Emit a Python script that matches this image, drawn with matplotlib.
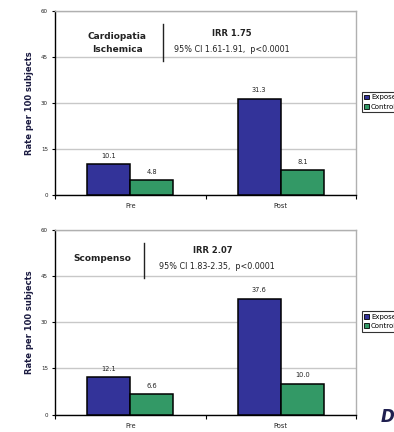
import numpy as np
import matplotlib
matplotlib.use("Agg")
import matplotlib.pyplot as plt

# Data
periods = ["Pre", "Post"]
series = ["Exposed", "Controls"]
ischemic_exposed = [10.1, 31.3]
ischemic_controls = [4.8, 8.1]
ischemic_labels = [["10.1", "31.3"], ["4.8", "8.1"]]
failure_exposed = [12.1, 37.6]
failure_controls = [6.6, 10.0]
failure_labels = [["12.1", "37.6"], ["6.6", "10.0"]]
yticks = [0, 15, 30, 45, 60]

colors = ["#333399", "#339966"]
bw = 0.286

fig = plt.figure(figsize=(3.94, 4.32), dpi=100)

def panel(rect, exp_vals, ctl_vals, labels, name, name_xy, line_x, line_y, irr, irr_xy, ci, ci_xy):
    ax = fig.add_axes(rect)
    x = np.arange(len(periods))
    for i, vals in enumerate([exp_vals, ctl_vals]):
        pos = x + (i - 0.5) * bw
        bars = ax.bar(pos, vals, bw, color=colors[i], edgecolor="black",
                      linewidth=1.1, label=series[i], zorder=3)
        for b, lab in zip(bars, labels[i]):
            ax.text(b.get_x() + b.get_width() / 2, b.get_height() + 1.8, lab,
                    ha="center", va="bottom", fontsize=4.8, color="#222222")
    ax.set_xlim(-0.5, 1.5)
    ax.set_ylim(0, 60)
    ax.set_yticks(yticks)
    ax.set_yticklabels([str(t) for t in yticks], fontsize=4, color="#222222")
    ax.set_xticks([-0.5, 0.5, 1.5])
    ax.set_xticklabels([])
    ax.set_xticks(x, minor=True)
    ax.set_xticklabels(periods, minor=True, fontsize=4.8, color="#222222")
    ax.tick_params(axis="x", which="major", length=3, width=0.8, direction="out")
    ax.tick_params(axis="x", which="minor", length=0, pad=6)
    ax.tick_params(axis="y", length=2, width=0.8, pad=3)
    ax.yaxis.grid(True, color="#c8c8c8", linewidth=1, zorder=0)
    ax.set_axisbelow(True)
    for s in ["top", "right"]:
        ax.spines[s].set_color("#b0b0b0")
        ax.spines[s].set_linewidth(1)
    ax.spines["left"].set_linewidth(1)
    ax.spines["bottom"].set_linewidth(1)
    ax.set_ylabel("Rate per 100 subjects", fontsize=6, fontweight="bold",
                  color="#1a1a40", labelpad=5)
    ax.text(name_xy[0], name_xy[1], name, transform=ax.transAxes, ha="center",
            va="center", fontsize=6.5, fontweight="bold", color="#222222",
            linespacing=1.5)
    ax.plot([line_x, line_x], line_y, transform=ax.transAxes, color="#222222",
            linewidth=1, clip_on=False)
    ax.text(irr_xy[0], irr_xy[1], irr, transform=ax.transAxes, ha="center",
            va="center", fontsize=6, fontweight="bold", color="#222222")
    ax.text(ci_xy[0], ci_xy[1], ci, transform=ax.transAxes, ha="center",
            va="center", fontsize=5.8, color="#222222")
    leg = ax.legend(loc="upper left", bbox_to_anchor=(1.02, 0.56), fontsize=5,
                    frameon=True, fancybox=False, edgecolor="black",
                    handlelength=0.7, handleheight=0.7, handletextpad=0.25,
                    borderpad=0.35, labelspacing=0.5, borderaxespad=0)
    leg.get_frame().set_linewidth(0.8)
    for h in leg.legend_handles:
        h.set_linewidth(0.6)
    return ax

panel([0.1396, 0.5486, 0.764, 0.426], ischemic_exposed, ischemic_controls,
      ischemic_labels, "Cardiopatia\nIschemica", (0.206, 0.826), 0.359,
      [0.929, 0.728], "IRR 1.75", (0.588, 0.880),
      "95% CI 1.61-1.91,  p<0.0001", (0.588, 0.793))

panel([0.1396, 0.0405, 0.764, 0.427], failure_exposed, failure_controls,
      failure_labels, "Scompenso", (0.158, 0.844), 0.295,
      [0.930, 0.740], "IRR 2.07", (0.525, 0.888),
      "95% CI 1.83-2.35,  p<0.0001", (0.538, 0.805))

fig.text(0.965, 0.035, "D", fontsize=12, fontstyle="italic", fontweight="bold",
         color="#1f1f4f", ha="left", va="center")

fig.savefig("out.png", dpi=100)
